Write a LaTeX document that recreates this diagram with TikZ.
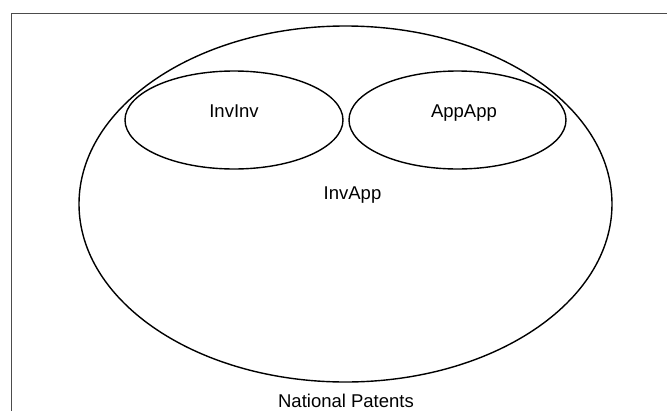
\documentclass[tikz,border=0pt]{standalone}
\usepackage{fontspec}
\setmainfont{Liberation Sans}
\usetikzlibrary{shapes.geometric}
\begin{document}
\begin{tikzpicture}[x=1pt,y=-1pt,
  ell/.style={draw=black,line width=1.4pt,ellipse,inner sep=0pt},
  lbl/.style={font=\fontsize{18.5}{20}\selectfont,inner sep=0pt,anchor=base}]
\useasboundingbox (0,0) rectangle (667,410);
\fill[white] (0,0) rectangle (667,410);
\draw[draw=black!70,line width=1.4pt] (11.5,420) -- (11.5,13.5) -- (680,13.5);
\node[ell,minimum width=533pt,minimum height=356pt] (np) at (345.5,204) {};
\node[ell,minimum width=218pt,minimum height=98pt] (ii) at (234,120) {};
\node[ell,minimum width=217pt,minimum height=98pt] (aa) at (457.5,120) {};
\node[lbl] (tii) at (234,117) {InvInv};
\node[lbl] (taa) at (464,117) {AppApp};
\node[lbl] (tia) at (352.5,199.5) {InvApp};
\node[lbl] (tnp) at (346,407) {National Patents};
\end{tikzpicture}
\end{document}
